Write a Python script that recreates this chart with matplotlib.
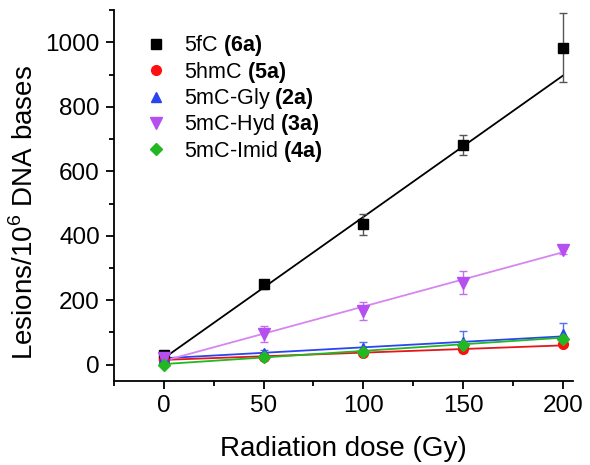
import matplotlib
matplotlib.use('Agg')
import matplotlib.pyplot as plt
from matplotlib.lines import Line2D
from matplotlib.ticker import MultipleLocator
import numpy as np

plt.rcParams['font.family'] = ['Liberation Sans', 'DejaVu Sans']
plt.rcParams['mathtext.fontset'] = 'custom'
plt.rcParams['mathtext.rm'] = 'Liberation Sans'
plt.rcParams['mathtext.bf'] = 'Liberation Sans:bold'

#   Data

dose = [0, 50, 100, 150, 200]

names = ['5fC', '5hmC', '5mC-Gly', '5mC-Hyd', '5mC-Imid']
compounds = ['6a', '5a', '2a', '3a', '4a']

lesions_5fc = [30, 249, 436, 682, 984]
lesions_5hmc = [15, 25, 36, 48, 65]
lesions_gly = [20, 35, 53, 72, 95]
lesions_hyd = [20, 95, 168, 255, 355]
lesions_imid = [0, 25, 38, 62, 80]

err_5fc = [8, 15, 33, 31, 108]
err_5hmc = [4, 5, 6, 8, 8]
err_gly = [5, 10, 18, 33, 36]
err_hyd = [5, 25, 28, 35, 12]
err_imid = [4, 5, 6, 6, 6]

# linear fit lines (intercept, slope) as drawn in the reference
fit_intercept = [20, 15, 20, 12, 2]
fit_slope = [4.385, 0.225, 0.34, 1.685, 0.41]

values = [lesions_5fc, lesions_5hmc, lesions_gly, lesions_hyd, lesions_imid]
errors = [err_5fc, err_5hmc, err_gly, err_hyd, err_imid]

marker_colors = ['#000000', '#ff1010', '#2a45f0', '#b54ff0', '#22b822']
line_colors = ['#000000', '#e8141c', '#2a45f0', '#d686f0', '#22b822']
err_colors = ['#555555', '#d04040', '#5570f0', '#c070f0', '#40b040']
markers = ['s', 'o', '^', 'v', 'D']
sizes = [7, 7, 7.5, 8, 6]

fig = plt.figure(figsize=(5.9, 4.65), dpi=100)
ax = fig.add_axes([0.193, 0.181, 0.778, 0.797])

x_fit = np.array([dose[0], dose[-1]])

handles = []
for i in range(len(names)):

    ax.plot(x_fit, fit_intercept[i] + fit_slope[i] * x_fit,
        color=line_colors[i], linewidth=1.3, zorder=2)

    ax.errorbar(dose, values[i], yerr=errors[i], fmt='none',
        ecolor=err_colors[i], elinewidth=1.0, capsize=3, capthick=1.0,
        zorder=3)

    ax.plot(dose, values[i], linestyle='none', marker=markers[i],
        markersize=sizes[i], color=marker_colors[i], zorder=4)

    handles.append(Line2D([], [], linestyle='none', marker=markers[i],
        markersize=sizes[i], color=marker_colors[i],
        label=names[i] + ' $\\mathbf{(' + compounds[i] + ')}$'))

ax.legend(handles=handles, loc='upper left', bbox_to_anchor=(0.049, 0.961),
    frameon=False, fontsize=15.5, handlelength=1.0, handletextpad=0.8,
    labelspacing=0.065, borderaxespad=0)

ax.set_xlim(-25, 205)
ax.set_ylim(-50, 1100)

ax.xaxis.set_major_locator(MultipleLocator(50))
ax.xaxis.set_minor_locator(MultipleLocator(25))
ax.yaxis.set_major_locator(MultipleLocator(200))
ax.yaxis.set_minor_locator(MultipleLocator(100))

ax.spines['top'].set_visible(False)
ax.spines['right'].set_visible(False)
ax.spines['left'].set_linewidth(1.3)
ax.spines['bottom'].set_linewidth(1.3)

ax.tick_params(which='major', direction='out', length=6, width=1.3,
    labelsize=17.5, pad=4)
ax.tick_params(which='minor', direction='out', length=3.5, width=1.3)

ax.set_xlabel('Radiation dose (Gy)', fontsize=20, labelpad=14)
ax.set_ylabel('Lesions/10$^{6}$ DNA bases', fontsize=20)
ax.yaxis.set_label_coords(-0.163, 0.455)

fig.savefig('out.png', dpi=100)
